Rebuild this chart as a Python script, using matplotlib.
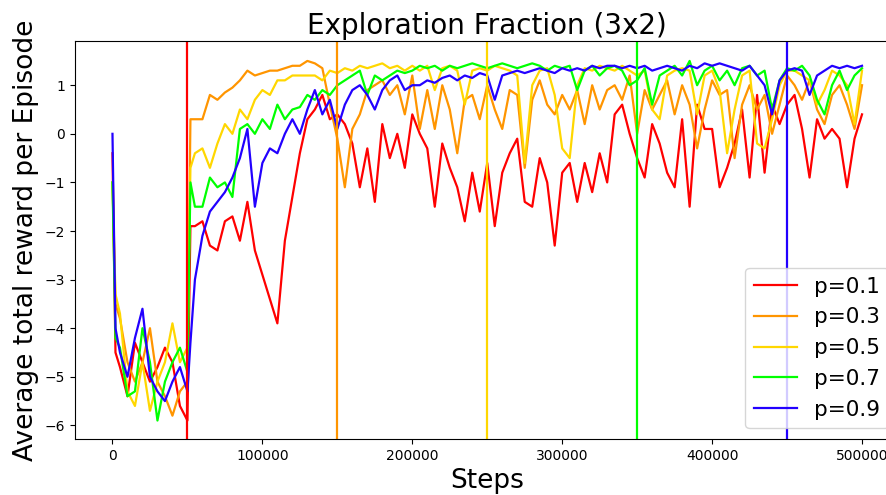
import matplotlib
matplotlib.use("Agg")
import matplotlib.pyplot as plt

# Training steps at which the running average was logged
steps = [0, 2000] + list(range(5000, 50001, 5000)) + [52000] + list(range(55000, 500001, 5000))

reward_p01 = [
    -0.4, -4.5, -4.8, -5.4, -4.3, -4.7, -5.1, -4.8, -4.4, -4.7, -5.6, -5.9, -1.9,
    -1.9, -1.8, -2.3, -2.4, -1.8, -1.7, -2.2, -1.4, -2.4, -2.9,
    -3.4, -3.9, -2.2, -1.3, -0.4, 0.3, 0.5, 0.8, 0.3, 0.4,
    0.2, -0.2, -1.1, -0.3, -1.4, 0.2, -0.5, 0.0, -0.7, 0.4,
    0.0, -0.3, -1.5, -0.2, -0.7, -1.1, -1.8, -0.8, -1.6, -0.6,
    -1.9, -0.8, -0.4, -0.1, -1.4, -1.5, -0.5, -1.0, -2.3, -0.8,
    -0.6, -1.4, -0.6, -1.2, -0.4, -1.0, 0.4, 0.6, 0.0, -0.5,
    -0.9, 0.2, -0.2, -0.8, -1.1, 0.3, -1.5, 0.6, 0.1, 0.1,
    -1.1, -0.7, -0.2, 0.5, -0.9, 0.8, -0.8, 0.6, 0.2, 0.6,
    0.8, 0.1, -0.9, 0.3, -0.1, 0.1, -0.1, -1.1, -0.1, 0.4,
]
reward_p03 = [
    -1.0, -3.5, -3.8, -4.7, -5.1, -4.7, -4.0, -5.1, -5.4, -5.8, -5.3, -5.1, 0.3,
    0.3, 0.3, 0.8, 0.7, 0.85, 0.95, 1.1, 1.3, 1.2, 1.25,
    1.3, 1.3, 1.35, 1.4, 1.4, 1.5, 1.45, 1.35, 0.6, -0.1,
    -1.1, 0.1, 0.4, 0.9, 1.0, 1.1, 0.8, 1.0, 0.4, 1.2,
    0.1, 0.9, 0.1, 1.0, 0.5, -0.4, 0.7, 0.8, 0.3, 1.0,
    0.5, 0.1, 0.9, 0.8, -0.7, 0.7, 1.1, 0.6, 0.4, 0.8,
    0.5, 0.9, 0.2, 1.0, 0.5, 0.9, 1.0, 0.7, 1.2, 0.0,
    0.9, 0.5, 0.8, 1.1, 0.4, 1.0, 0.6, -0.3, 0.5, 1.1,
    0.8, 0.9, -0.5, 0.6, 1.0, 0.5, 0.8, 0.0, 0.6, 1.2,
    1.0, 0.7, 1.1, 0.5, 0.2, 0.8, 1.0, 0.6, 0.1, 1.0,
]
reward_p05 = [
    -1.0, -3.3, -3.7, -5.3, -5.6, -4.7, -5.7, -5.1, -4.7, -3.9, -4.7, -4.4, -0.7,
    -0.4, -0.3, -0.7, -0.2, 0.2, 0.0, 0.5, 0.3, 0.7, 0.9,
    0.8, 1.1, 1.1, 1.2, 1.2, 1.2, 1.2, 1.1, 1.3, 1.25,
    1.35, 1.3, 1.4, 1.35, 1.4, 1.45, 1.35, 1.4, 1.3, 1.4,
    1.3, 1.4, 0.9, 1.35, 1.4, 1.3, 0.6, 1.3, 1.35, 1.3,
    1.4, 1.35, 1.3, 1.2, -0.6, 1.0, 1.3, 1.35, 0.8, -0.3,
    -0.5, 1.0, 1.35, 1.3, 1.4, 1.35, 1.3, 1.4, 1.3, 1.2,
    1.3, 0.5, 0.3, 1.2, 1.3, 1.35, 1.3, 0.4, 1.2, 1.3,
    0.9, -0.4, 0.5, 1.2, 1.3, -0.2, -0.3, 0.3, 1.0, 1.3,
    1.3, 1.2, 1.1, 0.6, 0.9, 1.3, 1.2, 1.0, 0.2, 1.3,
]
reward_p07 = [
    -1.0, -4.2, -4.4, -5.4, -5.3, -4.0, -4.7, -5.9, -5.1, -4.7, -4.4, -4.9, -1.0,
    -1.5, -1.5, -0.9, -1.1, -1.0, -1.3, 0.1, 0.2, 0.0, 0.3,
    0.1, 0.6, 0.3, 0.5, 0.55, 0.8, 0.7, 0.9, 0.8, 1.0,
    1.1, 1.2, 1.3, 0.8, 1.2, 1.1, 1.2, 1.3, 1.25, 1.3,
    1.4, 1.35, 1.4, 1.3, 1.4, 1.35, 1.4, 1.45, 1.4, 1.35,
    1.4, 1.45, 1.4, 1.35, 1.4, 1.45, 1.4, 1.3, 1.4, 1.35,
    1.4, 0.9, 1.3, 1.4, 1.2, 1.35, 1.4, 1.3, 1.0, 1.1,
    1.35, 0.6, 1.2, 1.3, 1.4, 1.2, 1.5, 1.0, 1.3, 1.4,
    1.1, 1.3, 1.0, 1.35, 1.4, 1.2, 1.3, 0.5, 1.1, 1.35,
    1.3, 1.4, 1.2, 0.7, 0.4, 1.0, 1.3, 0.9, 1.2, 1.35,
]
reward_p09 = [
    0.0, -4.0, -4.5, -5.0, -4.2, -3.6, -5.0, -5.3, -5.5, -5.1, -4.8, -5.3, -4.3,
    -3.0, -2.1, -1.6, -1.4, -1.2, -0.9, -0.5, 0.1, -1.5, -0.6,
    -0.3, -0.4, 0.0, 0.3, 0.0, 0.5, 0.9, 0.4, 0.7, 0.1,
    0.6, 0.9, 1.0, 0.8, 0.5, 0.9, 1.1, 1.2, 0.9, 1.0,
    1.0, 1.1, 1.05, 1.15, 1.2, 1.1, 1.2, 1.15, 1.25, 1.2,
    0.7, 1.2, 1.25, 1.3, 1.25, 1.3, 1.35, 1.3, 1.25, 1.35,
    1.3, 1.35, 1.3, 1.4, 1.35, 1.4, 1.4, 1.35, 1.4, 1.35,
    1.4, 1.3, 1.35, 1.4, 1.35, 1.3, 1.4, 1.35, 1.45, 1.4,
    1.45, 1.4, 1.35, 1.3, 1.4, 1.2, 1.0, 0.4, 1.1, 1.3,
    1.35, 1.3, 0.8, 1.2, 1.3, 1.4, 1.35, 1.4, 1.35, 1.4,
]

labels = ["p=0.1", "p=0.3", "p=0.5", "p=0.7", "p=0.9"]
colors = ["#FF0000", "#FF9500", "#FFD700", "#00FF00", "#2200FF"]
# step at which each run's exploration phase ends
explore_end = [50000, 150000, 250000, 350000, 450000]

fig = plt.figure(figsize=(8.87, 4.95), dpi=100)
ax = fig.add_axes([75 / 887, 56 / 495, 824.5 / 887, 398 / 495])

series = [reward_p01, reward_p03, reward_p05, reward_p07, reward_p09]
for ys, lab, col in zip(series, labels, colors):
    ax.plot(steps, ys, color=col, linewidth=1.6, label=lab)

for x, col in zip(explore_end, colors):
    ax.axvline(x, color=col, linewidth=1.6)

ax.set_xlim(-25000, 525000)
ax.set_ylim(-6.28, 1.91)
ax.set_title("Exploration Fraction (3x2)", fontsize=20, pad=5)
ax.set_xlabel("Steps", fontsize=19)
ax.set_ylabel("Average total reward per Episode", fontsize=19)
ax.legend(loc="lower right", fontsize=15.5)

fig.savefig("out.png", dpi=100)
